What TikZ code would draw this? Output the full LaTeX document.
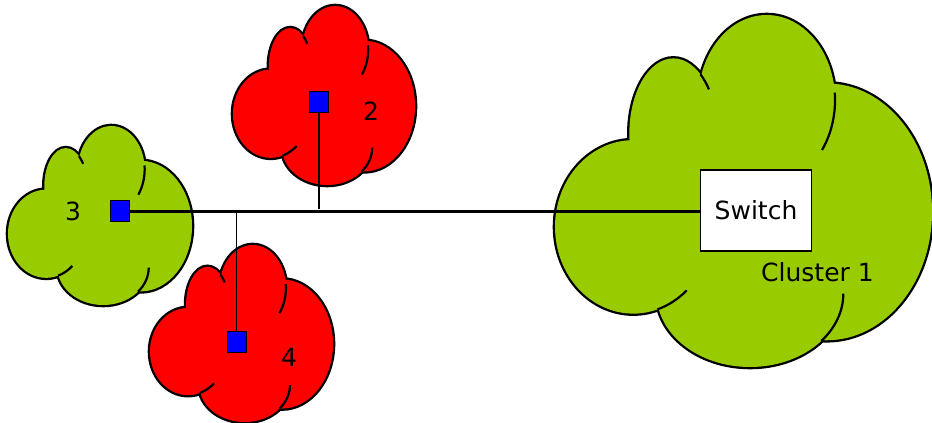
\documentclass[tikz,border=0pt]{standalone}
\usepackage{fontspec}
\setmainfont{DejaVu Sans}
\usepackage{tikz}
\definecolor{leaf}{HTML}{99CC00}
\definecolor{hot}{HTML}{FF0000}
\definecolor{port}{HTML}{0000FF}
\tikzset{
  pics/cloud/.style n args={3}{code={
    \begin{scope}[x={(#2*0.5pt,0pt)},y={(0pt,-#3*0.5pt)}]
      \foreach \cx/\cy/\rx/\ry in {0.2078/0.6019/0.2078/0.2464,0.3139/0.3365/0.1167/0.2133,0.5615/0.2417/0.1813/0.2417,0.7206/0.5592/0.2794/0.3649,0.5172/0.7915/0.2476/0.2085}
        \draw[line width=2.3pt,fill=#1] (\cx,\cy) ellipse [x radius=\rx,y radius=\ry];
      \foreach \cx/\cy/\rx/\ry in {0.2078/0.6019/0.2078/0.2464,0.3139/0.3365/0.1167/0.2133,0.5615/0.2417/0.1813/0.2417,0.7206/0.5592/0.2794/0.3649,0.5172/0.7915/0.2476/0.2085,0.5/0.5/0.3/0.3}
        \fill[#1] (\cx,\cy) ellipse [x radius=\rx,y radius=\ry];
      \foreach \cx/\cy/\rx/\ry/\a/\b in {0.3139/0.3365/0.1167/0.2133/-52/-36,0.5615/0.2417/0.1813/0.2417/-5/36,0.2078/0.6019/0.2078/0.2464/47/72,0.5172/0.7915/0.2476/0.2085/0/40}
        \draw[line width=1.1pt] ({\cx+\rx*cos(\a)},{\cy+\ry*sin(\a)}) arc [start angle=\a,end angle=\b,x radius=\rx,y radius=\ry];
    \end{scope}
  }},
  portbox/.style={draw,fill=port,line width=0.5pt,minimum width=9.5pt,minimum height=10.5pt,inner sep=0pt},
  trunk/.style={line width=1.5pt},
  drop/.style={line width=0.7pt}
}

\begin{document}
\begin{tikzpicture}[x=0.5pt,y=-0.5pt,font=\fontsize{12.5}{15}\selectfont]
  \useasboundingbox (0,0) rectangle (932,423);
  \pic at (555,15) {cloud={leaf}{377}{352}};
  \pic at (8,126) {cloud={leaf}{184}{179}};
  \pic at (233,6) {cloud={hot}{182}{179}};
  \pic at (150,245) {cloud={hot}{183}{177}};
  \node[portbox] (p3) at (119.5,211) {};
  \node[portbox] (p2) at (319,102) {};
  \node[portbox] (p4) at (236.5,342) {};
  \node[draw,fill=white,line width=0.6pt,minimum width=55.5pt,minimum height=40.5pt,inner sep=0pt] (sw) at (756,210.5) {Switch};
  \node (l3) at (73,211) {3};
  \node (l2) at (371,111) {2};
  \node (l4) at (289,357) {4};
  \node (cl) at (817.5,272) {Cluster 1};
  \coordinate (t2) at (319,209);
  \coordinate (t4) at (236.5,211);
  \draw[trunk] (p3.east) -- (p3.east -| sw.west);
  \draw[drop] (p2.south) -- (t2);
  \draw[drop] (t4) -- (p4.north);
\end{tikzpicture}
\end{document}
